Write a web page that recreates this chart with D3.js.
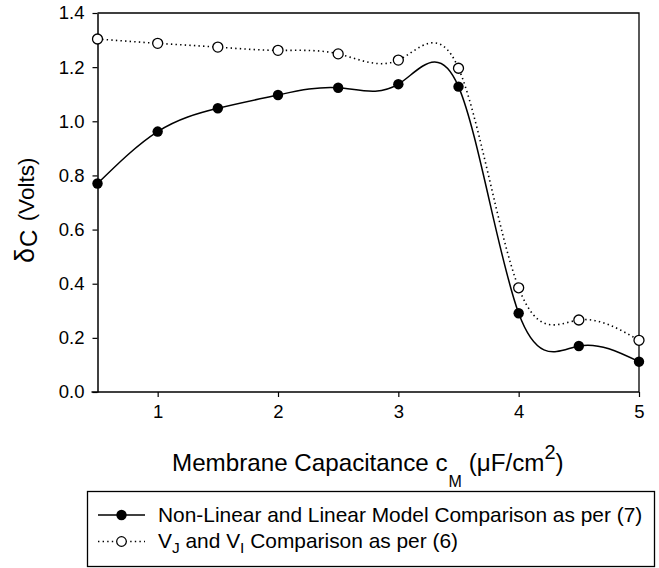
<!DOCTYPE html>
<html>
<head>
<meta charset="utf-8">
<script src="https://cdn.jsdelivr.net/npm/d3@7"></script>
<style>
  html, body { margin: 0; padding: 0; background: #fff; }
  svg { display: block; font-family: "Liberation Sans", Arial, sans-serif; }
</style>
</head>
<body>
<svg id="chart" width="659" height="568"></svg>
<script>
// ---- data ----
const capacitance = [0.5, 1, 1.5, 2, 2.5, 3, 3.5, 4, 4.5, 5];
const nonLinearVsLinear = [0.770, 0.962, 1.048, 1.097, 1.124, 1.137, 1.128, 0.291, 0.170, 0.112];
const vjVsVi = [1.304, 1.288, 1.274, 1.262, 1.249, 1.226, 1.196, 0.385, 0.266, 0.191];
const xTicks = [1, 2, 3, 4, 5];
const yTicks = [0.0, 0.2, 0.4, 0.6, 0.8, 1.0, 1.2, 1.4];

const svg = d3.select("#chart");
const L = 97.5, R = 639, T = 13, B = 392;

const x = d3.scaleLinear().domain([0.5, 5]).range([L, R]);
const y = d3.scaleLinear().domain([0, 1.4]).range([B, T]);

// axes
const xAxis = svg.append("g").attr("transform", `translate(0,${B})`)
  .call(d3.axisBottom(x).tickValues(xTicks).tickFormat(d3.format("d")).tickSize(5).tickSizeOuter(0).tickPadding(8));
const yAxis = svg.append("g").attr("transform", `translate(${L},0)`)
  .call(d3.axisLeft(y).tickValues(yTicks).tickFormat(d3.format(".1f")).tickSize(5).tickSizeOuter(0).tickPadding(8));
[xAxis, yAxis].forEach(g => {
  g.selectAll("text").attr("font-family", "Liberation Sans, Arial, sans-serif").attr("font-size", 18.5).attr("fill", "#000");
  g.selectAll("line").attr("stroke", "#000").attr("stroke-width", 1.2);
  g.select(".domain").attr("stroke", "#000").attr("stroke-width", 1.5);
});
xAxis.select(".domain").attr("d", `M${L - 6},0H${R}`);

// frame top/right
svg.append("path")
  .attr("d", `M${L},${T}H${R}V${B}`)
  .attr("fill", "none").attr("stroke", "#000").attr("stroke-width", 1.3);

// lines
const line = d3.line().x((d, i) => x(capacitance[i])).y(d => y(d)).curve(d3.curveNatural);

svg.append("path").datum(vjVsVi)
  .attr("d", line).attr("fill", "none").attr("stroke", "#000")
  .attr("stroke-width", 1.6).attr("stroke-dasharray", "1.4,3.2");
svg.append("path").datum(nonLinearVsLinear)
  .attr("d", line).attr("fill", "none").attr("stroke", "#000").attr("stroke-width", 1.5);

// markers
svg.append("g").selectAll("circle").data(vjVsVi).join("circle")
  .attr("cx", (d, i) => x(capacitance[i])).attr("cy", d => y(d)).attr("r", 5)
  .attr("fill", "#fff").attr("stroke", "#000").attr("stroke-width", 1.3);
svg.append("g").selectAll("circle").data(nonLinearVsLinear).join("circle")
  .attr("cx", (d, i) => x(capacitance[i])).attr("cy", d => y(d)).attr("r", 5.2)
  .attr("fill", "#000");

// y title
const yt = svg.append("text")
  .attr("transform", "translate(34,263) rotate(-90)")
  .attr("text-anchor", "start").attr("font-size", 22.5).attr("fill", "#000");
yt.append("tspan").attr("font-size", 27).text("δ");
yt.append("tspan").attr("dy", 3).attr("dx", 1).attr("font-size", 24).text("C");
yt.append("tspan").attr("dy", -3).attr("dx", 2).text(" (Volts)");

// x title
const xt = svg.append("text").attr("x", 172).attr("y", 471)
  .attr("font-size", 24.2).attr("fill", "#000");
xt.append("tspan").text("Membrane Capacitance c");
xt.append("tspan").attr("dx", 1).attr("dy", 16).attr("font-size", 16).text("M");
xt.append("tspan").attr("dy", -16).text(" (μF/cm");
xt.append("tspan").attr("dy", -12).attr("font-size", 20).text("2");
xt.append("tspan").attr("dy", 12).text(")");

// legend
svg.append("rect").attr("x", 87.5).attr("y", 491.5).attr("width", 567).attr("height", 75)
  .attr("fill", "none").attr("stroke", "#000").attr("stroke-width", 1.3);

const legendRows = [
  { yy: 515, dash: null, fill: "#000" },
  { yy: 541.5, dash: "1.4,3.2", fill: "#fff" }
];
legendRows.forEach(r => {
  svg.append("line").attr("x1", 98).attr("x2", 145).attr("y1", r.yy).attr("y2", r.yy)
    .attr("stroke", "#000").attr("stroke-width", r.dash ? 1.3 : 1.5)
    .attr("stroke-dasharray", r.dash);
  svg.append("circle").attr("cx", 121.5).attr("cy", r.yy).attr("r", r.dash ? 4.8 : 5.2)
    .attr("fill", r.fill).attr("stroke", r.dash ? "#000" : "none").attr("stroke-width", 1.2);
});
svg.append("text").attr("x", 158).attr("y", 522).attr("font-size", 20.9).attr("fill", "#000")
  .text("Non-Linear and Linear Model Comparison as per (7)");
const l2 = svg.append("text").attr("x", 158).attr("y", 548).attr("font-size", 20.9).attr("fill", "#000");
l2.append("tspan").text("V");
l2.append("tspan").attr("dy", 5).attr("font-size", 15.5).text("J");
l2.append("tspan").attr("dy", -5).text(" and V");
l2.append("tspan").attr("dy", 5).attr("font-size", 15.5).text("I");
l2.append("tspan").attr("dy", -5).text(" Comparison as per (6)");
</script>
</body>
</html>
